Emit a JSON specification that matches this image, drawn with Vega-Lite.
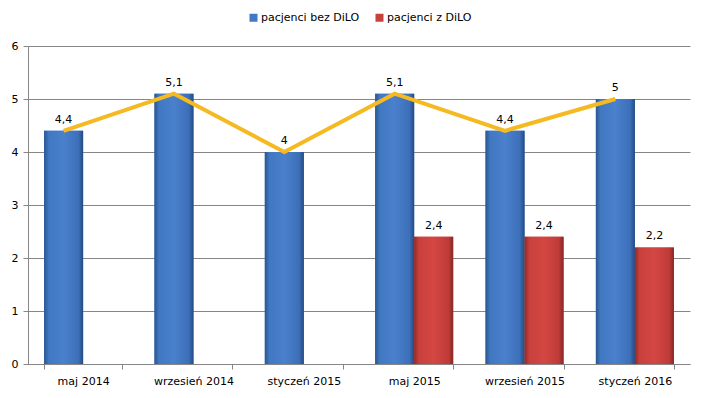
{
  "$schema": "https://vega.github.io/schema/vega-lite/v6.json",
  "autosize": "none",
  "width": 662,
  "height": 318,
  "padding": {"left": 28, "top": 46, "right": 17, "bottom": 34},
  "background": "white",
  "config": {
    "font": "DejaVu Sans",
    "view": {"stroke": null},
    "locale": {"number": {"decimal": ",", "thousands": " ", "grouping": [3], "currency": ["", " zł"]}},
    "axis": {"labelFont": "DejaVu Sans", "labelFontSize": 11, "labelColor": "#000000", "domainColor": "#868686", "tickColor": "#868686", "gridColor": "#868686", "tickSize": 5}
  },
  "data": {
    "values": [
      {"cat": "maj 2014", "series": "pacjenci bez DiLO", "value": 4.4},
      {"cat": "wrzesień 2014", "series": "pacjenci bez DiLO", "value": 5.1},
      {"cat": "styczeń 2015", "series": "pacjenci bez DiLO", "value": 4},
      {"cat": "maj 2015", "series": "pacjenci bez DiLO", "value": 5.1},
      {"cat": "wrzesień 2015", "series": "pacjenci bez DiLO", "value": 4.4},
      {"cat": "styczeń 2016", "series": "pacjenci bez DiLO", "value": 5},
      {"cat": "maj 2015", "series": "pacjenci z DiLO", "value": 2.4},
      {"cat": "wrzesień 2015", "series": "pacjenci z DiLO", "value": 2.4},
      {"cat": "styczeń 2016", "series": "pacjenci z DiLO", "value": 2.2}
    ]
  },
  "encoding": {
    "x": {
      "field": "cat", "type": "nominal",
      "sort": ["maj 2014", "wrzesień 2014", "styczeń 2015", "maj 2015", "wrzesień 2015", "styczeń 2016"],
      "scale": {"paddingInner": 0.293, "paddingOuter": 0.146},
      "axis": {"title": null, "labelAngle": 0, "tickBand": "extent", "labelPadding": 6, "grid": false}
    },
    "xOffset": {
      "field": "series", "type": "nominal",
      "scale": {"domain": ["pacjenci bez DiLO", "pacjenci z DiLO"], "paddingInner": 0, "paddingOuter": 0}
    },
    "y": {
      "field": "value", "type": "quantitative",
      "scale": {"domain": [0, 6], "nice": false},
      "axis": {"title": null, "values": [0, 1, 2, 3, 4, 5, 6], "labelPadding": 5, "grid": true}
    }
  },
  "layer": [
    {
      "mark": {"type": "bar"},
      "encoding": {
        "color": {
          "field": "series", "type": "nominal",
          "scale": {"domain": ["pacjenci bez DiLO", "pacjenci z DiLO"], "range": ["#4179C2", "#C9413D"]},
          "legend": {
            "title": null, "orient": "none", "direction": "horizontal",
            "legendX": 220, "legendY": -34,
            "symbolType": "square", "symbolSize": 64, "symbolStrokeWidth": 0,
            "labelFontSize": 11, "labelFont": "DejaVu Sans", "labelColor": "#000000",
            "columnPadding": 14, "labelOffset": 2
          }
        }
      }
    },
    {
      "mark": {"type": "bar"},
      "encoding": {
        "fill": {
          "condition": {
            "test": "datum.series === 'pacjenci bez DiLO'",
            "value": {"gradient": "linear", "x1": 0, "x2": 1, "y1": 0, "y2": 0,
              "stops": [{"offset": 0, "color": "#2A5690"}, {"offset": 0.12, "color": "#4178C2"}, {"offset": 0.5, "color": "#4A80CC"}, {"offset": 0.88, "color": "#3C6FB8"}, {"offset": 1, "color": "#244B82"}]}
          },
          "value": {"gradient": "linear", "x1": 0, "x2": 1, "y1": 0, "y2": 0,
            "stops": [{"offset": 0, "color": "#8E2B29"}, {"offset": 0.12, "color": "#C8403C"}, {"offset": 0.5, "color": "#D44743"}, {"offset": 0.88, "color": "#BE3B38"}, {"offset": 1, "color": "#862725"}]}
        }
      }
    },
    {
      "transform": [{"filter": "datum.series === 'pacjenci bez DiLO'"}],
      "mark": {"type": "line", "color": "#F5B921", "strokeWidth": 4, "strokeJoin": "miter"},
      "encoding": {}
    },
    {
      "mark": {"type": "text", "baseline": "bottom", "dy": -6, "fontSize": 11, "font": "DejaVu Sans", "color": "#000000"},
      "encoding": {
        "text": {"field": "value", "type": "quantitative", "format": ".2~r"}
      }
    }
  ]
}
